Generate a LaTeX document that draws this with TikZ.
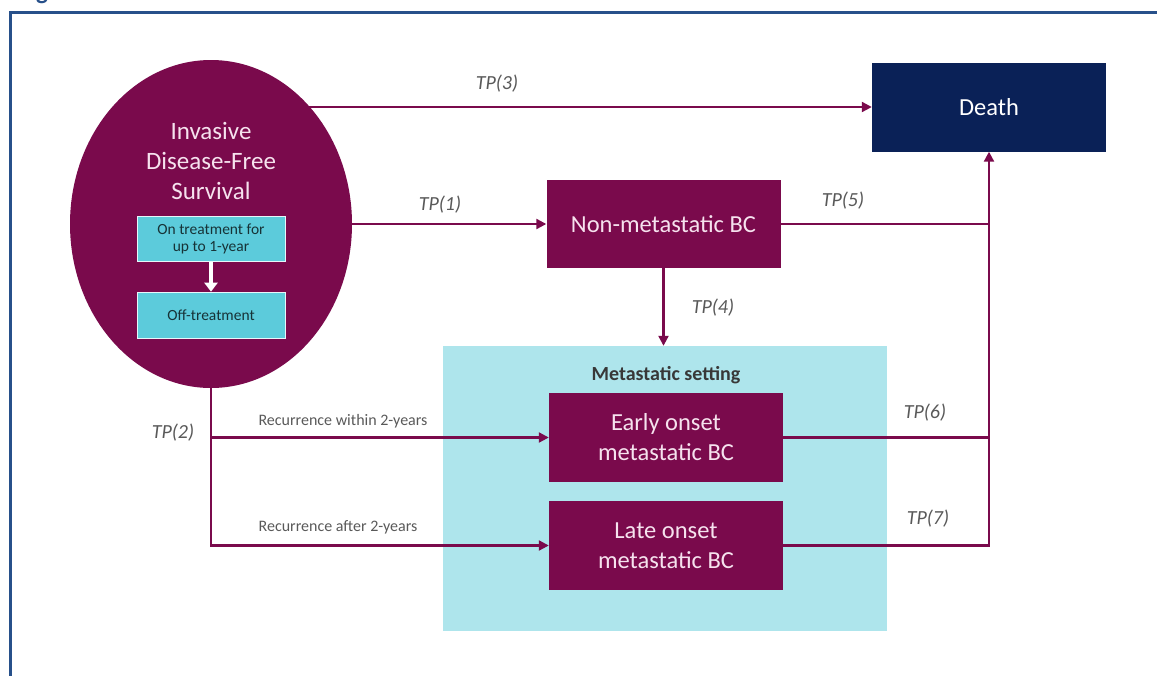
\documentclass[tikz,border=0pt]{standalone}
\usepackage{fontspec}
\setmainfont{Carlito}
\usetikzlibrary{arrows.meta,shapes.geometric,backgrounds}
\definecolor{maroon}{HTML}{7A0A4C}
\definecolor{navy}{HTML}{0A2157}
\definecolor{teal}{HTML}{5CCBDB}
\definecolor{paleteal}{HTML}{AEE5EC}
\definecolor{frameblue}{HTML}{27508A}
\definecolor{labelgray}{HTML}{595959}
\definecolor{boxtext}{HTML}{F6E2EE}
\tikzset{
  statebox/.style={rectangle, fill=maroon, text=boxtext, minimum width=234pt, minimum height=89pt,
    align=center, font=\fontsize{24.5}{30}\selectfont, inner sep=0pt},
  subbox/.style={rectangle, fill=teal, draw=white!85!teal, line width=0.6pt, minimum width=148pt, minimum height=45pt,
    align=center, text=black!75!teal, font=\fontsize{15.5}{17}\selectfont, inner sep=0pt},
  link/.style={draw=maroon, line width=2.2pt},
  arr/.style={link, -{Triangle[length=10pt,width=10pt]}},
  tplabel/.style={text=labelgray, font=\fontsize{20}{24}\selectfont\itshape},
  rclabel/.style={text=labelgray, font=\fontsize{16}{19}\selectfont},
}
\begin{document}
\begin{tikzpicture}[x=1pt,y=-1pt]
\useasboundingbox (0,0) rectangle (1157,675);

% frame and the cut-off heading above it
\begin{scope}
  \clip (0,0) rectangle (1157,675);
  \node[anchor=base, text=frameblue, font=\fontsize{25}{30}\selectfont\bfseries, inner sep=0pt] (head) at (42,-1) {g};
  \draw[frameblue, line width=3pt] (10,690) -- (10,12) -- (1170,12);
\end{scope}

% metastatic setting region
\node[rectangle, fill=paleteal, minimum width=444pt, minimum height=285pt, inner sep=0pt] (met) at (665,488.5) {};
\node[text=black!78, font=\fontsize{20}{24}\selectfont\bfseries] (mettitle) at (666,375) {Metastatic setting};

% states
\node[ellipse, fill=maroon, minimum width=282pt, minimum height=328pt, inner sep=0pt] (ell) at (211,224) {};
\node[text=boxtext, align=center, font=\fontsize{25}{30}\selectfont] (elltext) at (211,161) {Invasive\\Disease-Free\\Survival};
\node[subbox] (on) at (211,239) {On treatment for\\up to 1-year};
\node[subbox, minimum height=46pt] (off) at (211,315) {Off-treatment};
\draw[white, line width=4pt, -{Triangle[length=9pt,width=13pt]}] (on.south) -- (off.north);

\node[statebox, fill=navy, text=white] (death) at (989,107) {Death};
\node[statebox, minimum height=88pt] (nm) at (663.5,224) {Non-metastatic BC};
\node[statebox] (early) at (666,437.5) {Early onset\\metastatic BC};
\node[statebox] (late) at (666,545.5) {Late onset\\metastatic BC};

% transitions; TP(3) leaves from behind the ellipse
\begin{scope}[on background layer]
  \draw[arr] (ell.center |- death.west) -- (death.west);
\end{scope}
\draw[arr] (ell.east) -- (nm.west);
\draw[arr] (nm.south) -- (nm.south |- met.north);
\draw[link] (nm.east) -- (nm.east -| death.south);
\draw[link] (early.east) -- (early.east -| death.south);
\draw[arr] (late.east) -| (death.south);
\draw[arr] (ell.south) |- (early.west);
\draw[arr] (ell.south) |- (late.west);

% transition labels
\node[tplabel] (tp3) at (497,84) {TP(3)};
\node[tplabel] (tp1) at (440,205) {TP(1)};
\node[tplabel] (tp5) at (843,201) {TP(5)};
\node[tplabel] (tp4) at (713,308) {TP(4)};
\node[tplabel] (tp6) at (925,413) {TP(6)};
\node[tplabel] (tp7) at (928,519) {TP(7)};
\node[tplabel] (tp2) at (173,433) {TP(2)};
\node[rclabel] (rc1) at (343,421) {Recurrence within 2-years};
\node[rclabel] (rc2) at (338,527) {Recurrence after 2-years};
\end{tikzpicture}
\end{document}
